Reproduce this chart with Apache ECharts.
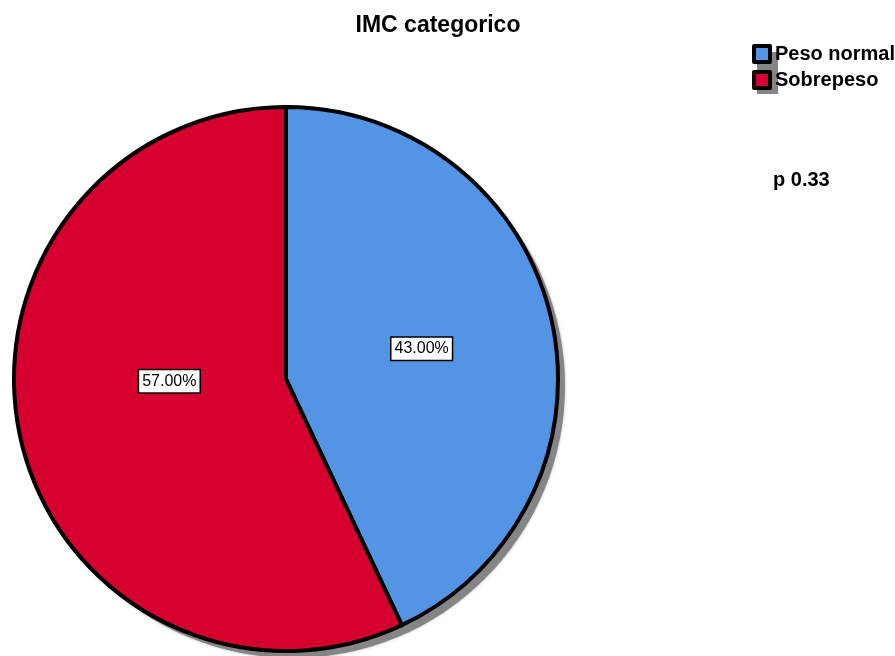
<!DOCTYPE html>
<html>
<head>
<meta charset="utf-8">
<script src="https://cdn.jsdelivr.net/npm/echarts@6/dist/echarts.min.js"></script>
<style>
  html, body { margin: 0; padding: 0; background: #fff; }
  #chart { width: 895px; height: 656px; }
</style>
</head>
<body>
<div id="chart"></div>
<script>
// Categories and shares (percent) for the BMI pie
const categories = ['Peso normal', 'Sobrepeso'];
const percentages = [43.00, 57.00];
const sliceColors = ['#5494E4', '#D6002F'];
const chartTitle = 'IMC categorico';
const pValueText = 'p 0.33';

const PIE_CENTER = [286, 379];
const PIE_RADIUS = 272;
const SHADOW_SHIFT = 7;
const SHADOW_COLOR = '#858585';

const chart = echarts.init(document.getElementById('chart'), null, { renderer: 'canvas' });

// nudge for the larger slice's value tag
const labelOffsets = [[0, 0], [19, -28]];

const data = categories.map((name, i) => ({
  name: name,
  value: percentages[i],
  itemStyle: { color: sliceColors[i] },
  label: { offset: labelOffsets[i] }
}));

const total = percentages.reduce((a, b) => a + b, 0);

chart.setOption({
  animation: false,
  backgroundColor: '#ffffff',
  title: {
    text: chartTitle,
    left: 433,
    top: 9,
    textAlign: 'center',
    textStyle: {
      fontFamily: 'Liberation Sans, Arial, sans-serif',
      fontSize: 23,
      fontWeight: 'bold',
      color: '#000'
    }
  },
  legend: {
    orient: 'vertical',
    left: 752,
    top: 44,
    padding: 0,
    icon: 'rect',
    itemWidth: 16,
    itemHeight: 16,
    itemGap: 6,
    selectedMode: false,
    data: categories,
    z: 5,
    itemStyle: {
      borderColor: '#000',
      borderWidth: 4
    },
    textStyle: {
      fontFamily: 'Liberation Sans, Arial, sans-serif',
      fontSize: 20,
      lineHeight: 16,
      fontWeight: 'bold',
      color: '#000'
    }
  },
  graphic: [
    {
      // drop shadow behind the legend swatches
      type: 'rect',
      z: 1,
      shape: { x: 757, y: 52, width: 21, height: 42 },
      style: { fill: SHADOW_COLOR }
    },
    {
      type: 'text',
      left: 773,
      top: 170,
      style: {
        text: pValueText,
        fontFamily: 'Liberation Sans, Arial, sans-serif',
        fontSize: 20,
        fontWeight: 'bold',
        fill: '#000'
      }
    }
  ],
  series: [
    {
      // drop shadow disc under the pie
      type: 'pie',
      silent: true,
      z: 1,
      center: [PIE_CENTER[0] + SHADOW_SHIFT, PIE_CENTER[1] + SHADOW_SHIFT],
      radius: PIE_RADIUS,
      data: [{ name: '', value: total }],
      itemStyle: { color: SHADOW_COLOR, shadowColor: 'rgba(130,130,130,0.6)', shadowBlur: 3 },
      label: { show: false },
      labelLine: { show: false },
      emphasis: { disabled: true },
      tooltip: { show: false }
    },
    {
      type: 'pie',
      z: 2,
      center: PIE_CENTER,
      radius: PIE_RADIUS,
      startAngle: 90,
      clockwise: true,
      data: data,
      itemStyle: {
        borderColor: '#000',
        borderWidth: 4
      },
      emphasis: { disabled: true },
      labelLine: { show: false },
      label: {
        show: true,
        position: 'inside',
        formatter: (p) => p.value.toFixed(2) + '%',
        fontFamily: 'Liberation Sans, Arial, sans-serif',
        fontSize: 16,
        color: '#000',
        backgroundColor: '#ffffff',
        borderColor: '#000',
        borderWidth: 1.5,
        padding: [3, 3, 3, 3]
      }
    }
  ]
});
</script>
</body>
</html>
